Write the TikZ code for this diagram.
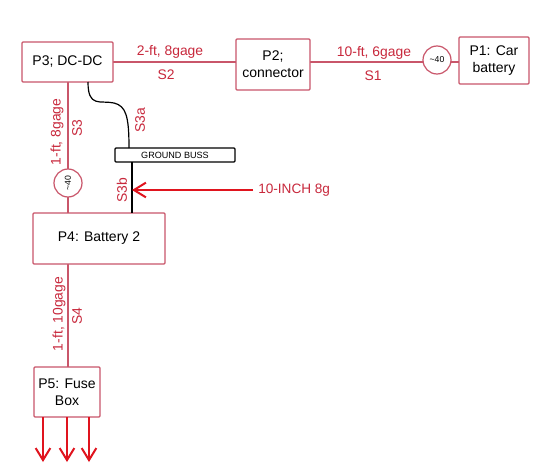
\documentclass[tikz,border=0pt]{standalone}
\usepackage{fontspec}
\setmainfont{Liberation Sans}
\definecolor{boxred}{HTML}{C9566A}
\definecolor{lblred}{HTML}{C8283C}
\definecolor{arrred}{HTML}{E0141E}
\usetikzlibrary{arrows.meta,calc}
\tikzset{
  px/.style={x=0.75pt,y=-0.75pt},
  part/.style={draw=boxred,line width=0.9pt,fill=white,rounded corners=0.8pt,inner sep=0pt,align=center,text=black,font=\fontsize{10.5}{12.5}\selectfont},
  wire/.style={draw=boxred,line width=1.1pt},
  blackwire/.style={draw=black,line width=0.9pt},
  fuse/.style={circle,draw=boxred,line width=0.9pt,fill=white,minimum size=21pt,inner sep=0pt,text=black,font=\fontsize{6.5}{8}\selectfont},
  bus/.style={draw=black,line width=0.9pt,fill=white,rounded corners=0.8pt,minimum width=90pt,minimum height=10.5pt,inner sep=0pt,text=black,font=\fontsize{6.8}{8}\selectfont},
  lbl/.style={text=lblred,inner sep=0pt,font=\fontsize{10.4}{12}\selectfont},
  feed/.style={draw=arrred,line width=1.5pt,-{Straight Barb[length=9pt,width=11pt,line width=1.5pt]}},
}
\begin{document}
\begin{tikzpicture}[px]
\useasboundingbox (0,0) rectangle (540,471);
\fill[white] (0,0) rectangle (540,471);
% coordinates of wire junctions
\coordinate (p3bus) at (88,82);
\coordinate (busin) at (129,148);
\coordinate (busout) at (132,162);
\coordinate (batin) at (132,213);
\coordinate (feedend) at (132,190);
\coordinate (feedstart) at (253,190);
% wires beneath the nodes
\draw[wire] (113,62) -- (236,62);
\draw[wire] (310,62) -- (459,62);
\draw[wire] (68,82) -- (68,213);
\draw[wire] (68,264) -- (68,367);
% nodes
\node[part,minimum width=68.25pt,minimum height=30pt] (p3) at (67.5,62) {P3; DC-DC};
\node[part,minimum width=55.5pt,minimum height=38.25pt] (p2) at (273,64.5) {P2;\\connector};
\node[part,minimum width=52.5pt,minimum height=35.25pt] (p1) at (494,60.5) {P1: Car\\battery};
\node[part,minimum width=99pt,minimum height=38.25pt] (p4) at (99,238.5) {P4: Battery 2};
\node[part,minimum width=49.5pt,minimum height=37.5pt] (p5) at (67,392) {P5: Fuse\\Box};
\node[bus] (bus) at (175,155) {GROUND BUSS};
\node[fuse] (f1) at (437,60) {\textasciitilde40};
\node[fuse,rotate=90] (f2) at (68,183) {\textasciitilde40};
% black wires
\draw[blackwire] (p3bus) .. controls (88,108) and (100,100) .. (114,103) .. controls (126,106) and (129,116) .. (busin);
\draw[blackwire] (busout) -- (batin);
% arrows
\coordinate (a1) at (43,417); \coordinate (a1e) at (43,462);
\coordinate (a2) at (67,417); \coordinate (a2e) at (67,462);
\coordinate (a3) at (89,417); \coordinate (a3e) at (89,462);
\draw[feed] (a1) -- (a1e);
\draw[feed] (a2) -- (a2e);
\draw[feed] (a3) -- (a3e);
\draw[feed] (feedstart) -- (feedend);
% labels
\node[lbl] (l1) at (170,52) {2-ft, 8gage};
\node[lbl] (l2) at (166,75) {S2};
\node[lbl] (l3) at (374,53) {10-ft, 6gage};
\node[lbl] (l4) at (373,76) {S1};
\node[lbl,rotate=90] (l5) at (57,132) {1-ft, 8gage};
\node[lbl,rotate=90] (l6) at (77,128) {S3};
\node[lbl,rotate=90] (l7) at (140,120) {S3a};
\node[lbl,rotate=90] (l8) at (122,190) {S3b};
\node[lbl,anchor=west,font=\fontsize{10.2}{12}\selectfont] (l9) at (258,190) {10-INCH 8g};
\node[lbl,rotate=90] (l10) at (59,314) {1-ft, 10gage};
\node[lbl,rotate=90] (l11) at (77,316) {S4};
\end{tikzpicture}
\end{document}
